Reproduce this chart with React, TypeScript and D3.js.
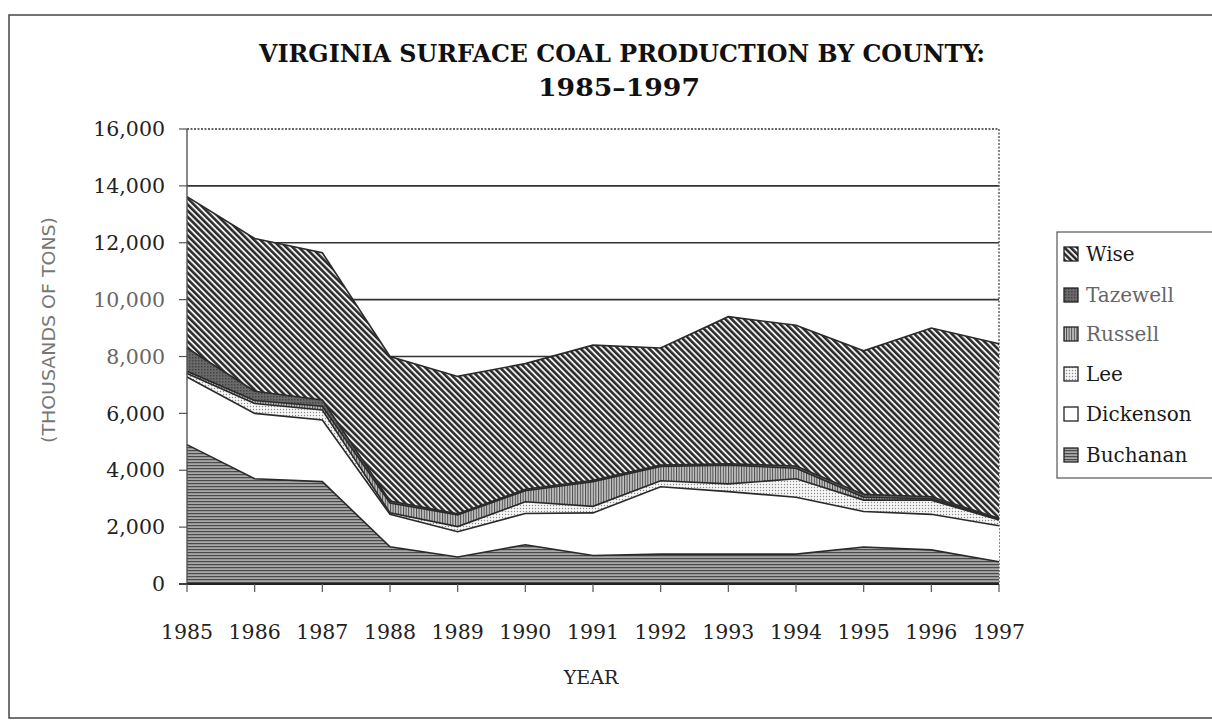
import React from 'react';
import * as d3 from 'd3';

const years = [1985, 1986, 1987, 1988, 1989, 1990, 1991, 1992, 1993, 1994, 1995, 1996, 1997];
const buchanan = [4900, 3700, 3600, 1310, 950, 1380, 1000, 1050, 1050, 1050, 1300, 1200, 780];
const dickenson = [2380, 2300, 2170, 1140, 890, 1100, 1500, 2370, 2200, 2000, 1250, 1250, 1270];
const lee = [120, 350, 350, 50, 180, 410, 230, 210, 270, 650, 400, 500, 200];
const russell = [80, 100, 130, 350, 410, 390, 870, 500, 660, 370, 100, 50, 30];
const tazewell = [820, 330, 220, 70, 40, 50, 50, 50, 50, 80, 100, 70, 30];
const wise = [5320, 5370, 5180, 5080, 4830, 4420, 4750, 4120, 5170, 4950, 5050, 5930, 6140];

const counties = ['Buchanan', 'Dickenson', 'Lee', 'Russell', 'Tazewell', 'Wise'];
const legendOrder = ['Wise', 'Tazewell', 'Russell', 'Lee', 'Dickenson', 'Buchanan'];
const yTicks = [0, 2000, 4000, 6000, 8000, 10000, 12000, 14000, 16000];
const titleLines = ['VIRGINIA SURFACE COAL PRODUCTION BY COUNTY:', '1985\u20131997'];

const fills: Record<string, string> = {
  Buchanan: 'url(#pat-buch)',
  Dickenson: '#ffffff',
  Lee: 'url(#pat-lee)',
  Russell: 'url(#pat-russ)',
  Tazewell: 'url(#pat-taz)',
  Wise: 'url(#pat-wise)',
};
const legendTextColor: Record<string, string> = {
  Wise: '#1a1a1a', Tazewell: '#666', Russell: '#666', Lee: '#1a1a1a', Dickenson: '#1a1a1a', Buchanan: '#1a1a1a',
};

const serif = '"DejaVu Serif", "Liberation Serif", serif';

export default function App() {
  const left = 187, right = 999, top = 129, bottom = 584;
  const x = d3.scaleLinear().domain([1985, 1997]).range([left, right]);
  const y = d3.scaleLinear().domain([0, 16000]).range([bottom, top]);

  const seriesMap: Record<string, number[]> = {
    Buchanan: buchanan, Dickenson: dickenson, Lee: lee, Russell: russell, Tazewell: tazewell, Wise: wise,
  };
  const rows = years.map((yr, i) => {
    const r: any = { year: yr };
    counties.forEach((c) => (r[c] = seriesMap[c][i]));
    return r;
  });
  const stacked = d3.stack<any>().keys(counties)(rows);
  const area = d3.area<any>().x((d) => x(d.data.year)).y0((d) => y(d[0])).y1((d) => y(d[1]));
  const topLine = d3.line<any>().x((d) => x(d.data.year)).y((d) => y(d[1]));

  const legendY = [254, 295, 334, 374, 414, 455];

  return (
    <svg width={1212} height={723} style={{ position: 'absolute', left: 0, top: 0, background: '#fff' }}>
      <defs>
        <pattern id="pat-wise" patternUnits="userSpaceOnUse" width={4.4} height={4.4} patternTransform="rotate(-45)">
          <rect width={4.4} height={4.4} fill="#eeeeee" />
          <rect x={0} y={0} width={2.5} height={4.4} fill="#2a2a2a" />
        </pattern>
        <pattern id="pat-taz" patternUnits="userSpaceOnUse" width={3} height={3}>
          <rect width={3} height={3} fill="#6a6a6a" />
          <rect width={1.5} height={1.5} fill="#444" />
        </pattern>
        <pattern id="pat-russ" patternUnits="userSpaceOnUse" width={2.6} height={4}>
          <rect width={2.6} height={4} fill="#c4c4c4" />
          <rect width={1} height={4} fill="#4a4a4a" />
        </pattern>
        <pattern id="pat-lee" patternUnits="userSpaceOnUse" width={3} height={3}>
          <rect width={3} height={3} fill="#f6f6f6" />
          <circle cx={1.5} cy={1.5} r={0.7} fill="#8a8a8a" />
        </pattern>
        <pattern id="pat-buch" patternUnits="userSpaceOnUse" width={4} height={3}>
          <rect width={4} height={3} fill="#a8a8a8" />
          <rect y={0} width={4} height={1.2} fill="#4a4a4a" />
        </pattern>
      </defs>

      {/* outer frame */}
      <rect x={9} y={15} width={1240} height={703} fill="none" stroke="#444" strokeWidth={1.5} />

      {/* title */}
      <text x={622} y={62} textAnchor="middle" fontFamily={serif} fontWeight="bold" fontSize={24}
        textLength={726} lengthAdjust="spacingAndGlyphs" fill="#111">{titleLines[0]}</text>
      <text x={619} y={96} textAnchor="middle" fontFamily={serif} fontWeight="bold" fontSize={24}
        textLength={162} lengthAdjust="spacingAndGlyphs" fill="#111">{titleLines[1]}</text>

      {/* gridlines */}
      {yTicks.filter((t) => t > 0 && t < 16000).map((t) => (
        <line key={t} x1={left} x2={right} y1={y(t)} y2={y(t)} stroke="#333" strokeWidth={1.6} />
      ))}
      <line x1={left} x2={right} y1={y(16000)} y2={y(16000)} stroke="#333" strokeWidth={1.4} strokeDasharray="2,1.5" />
      <line x1={right} x2={right} y1={y(16000)} y2={bottom} stroke="#555" strokeWidth={1.4} strokeDasharray="2,1.5" />

      {/* areas */}
      {stacked.map((s) => (
        <path key={s.key} d={area(s) || ''} fill={fills[s.key]} />
      ))}
      {stacked.map((s) => (
        <path key={s.key + '-l'} d={topLine(s) || ''} fill="none" stroke="#2a2a2a" strokeWidth={1.6} />
      ))}

      {/* axes */}
      <line x1={left} x2={left} y1={top} y2={bottom} stroke="#555" strokeWidth={1.4} />
      <line x1={left - 8} x2={right} y1={bottom} y2={bottom} stroke="#222" strokeWidth={2} />
      {yTicks.map((t) => (
        <g key={t}>
          <line x1={left - 8} x2={left} y1={y(t)} y2={y(t)} stroke="#555" strokeWidth={1.2} />
          <text x={165} y={y(t)} dy="0.35em" textAnchor="end" fontFamily={serif} fontSize={20.5}
            fill={t === 10000 || t === 8000 ? '#666' : '#222'}>{d3.format(',')(t)}</text>
        </g>
      ))}
      {years.map((yr) => (
        <g key={yr}>
          <line x1={x(yr)} x2={x(yr)} y1={bottom} y2={bottom + 8} stroke="#555" strokeWidth={1.2} />
          <text x={x(yr)} y={639} textAnchor="middle" fontFamily={serif} fontSize={20.5} fill="#222">{yr}</text>
        </g>
      ))}

      {/* axis titles */}
      <text x={591} y={684} textAnchor="middle" fontFamily={serif} fontSize={19} fill="#222">YEAR</text>
      <text transform="translate(55,330) rotate(-90)" textAnchor="middle" fontFamily='"DejaVu Sans", sans-serif'
        fontSize={18} fill="#777" textLength={226} lengthAdjust="spacingAndGlyphs">(THOUSANDS OF TONS)</text>

      {/* legend */}
      <rect x={1057} y={232} width={200} height={246} fill="#fff" stroke="#555" strokeWidth={1.2} />
      {legendOrder.map((c, i) => (
        <g key={c}>
          <rect x={1064} y={legendY[i] - 7} width={14} height={14} fill={fills[c]} stroke="#222" strokeWidth={1.3} />
          <text x={1086} y={legendY[i]} dy="0.35em" fontFamily={serif} fontSize={20} fill={legendTextColor[c]}>{c}</text>
        </g>
      ))}
    </svg>
  );
}
